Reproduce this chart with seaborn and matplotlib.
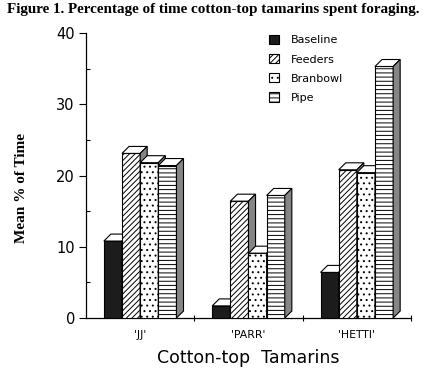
import numpy as np
import pandas as pd
import matplotlib
matplotlib.use("Agg")
import matplotlib.pyplot as plt
import matplotlib.patches as mpatches
from matplotlib.ticker import MultipleLocator, FixedLocator
import seaborn as sns

# data
animals = ["'JJ'", "'PARR'", "'HETTI'"]
conditions = ["Baseline", "Feeders", "Branbowl", "Pipe"]
baseline = [10.8, 1.7, 6.4]
feeders = [23.1, 16.4, 20.8]
branbowl = [21.8, 9.1, 20.4]
pipe = [21.4, 17.2, 35.3]

# bar styles per condition
face = ["#1c1c1c", "white", "white", "white"]
hatches = [None, "//////", "...", "----"]

sns.set_style("white")
plt.rcParams["hatch.linewidth"] = 0.7
for key in ["text.color", "axes.labelcolor", "xtick.color", "ytick.color", "axes.edgecolor"]:
    plt.rcParams[key] = "black"

df = pd.DataFrame({
    "animal": animals * 4,
    "condition": np.repeat(conditions, 3),
    "pct": baseline + feeders + branbowl + pipe,
})

fig = plt.figure(figsize=(4.27, 3.72), dpi=100)
ax = fig.add_axes([86 / 427, 54 / 372, 325 / 427, 285 / 372])

sns.barplot(data=df, x="animal", y="pct", hue="condition", order=animals,
            hue_order=conditions, width=0.67, gap=0, dodge=True,
            saturation=1, legend=False, errorbar=None, ax=ax,
            edgecolor="black", linewidth=0.8)

# fake 3d: top and side faces from each bar's geometry
dx, dy = 0.065, 0.98
for i, cont in enumerate(ax.containers):
    for bar in cont:
        bar.set_facecolor(face[i])
        bar.set_hatch(hatches[i])
        bar.set_zorder(10 + 2 * i)
        x0 = bar.get_x()
        x1 = x0 + bar.get_width()
        h = bar.get_height()
        top = mpatches.Polygon([(x0, h), (x1, h), (x1 + dx, h + dy), (x0 + dx, h + dy)],
                               closed=True, facecolor="white", edgecolor="black",
                               linewidth=0.8, zorder=11 + 2 * i)
        side = mpatches.Polygon([(x1, 0), (x1, h), (x1 + dx, h + dy), (x1 + dx, dy)],
                                closed=True, facecolor="#858585", edgecolor="black",
                                linewidth=0.8, zorder=11 + 2 * i)
        ax.add_patch(top)
        ax.add_patch(side)

ax.set_xlim(-0.5, 2.5)
ax.set_ylim(0, 40)
sns.despine(ax=ax)
for s in ["left", "bottom"]:
    ax.spines[s].set_linewidth(0.9)

ax.yaxis.set_major_locator(MultipleLocator(10))
ax.yaxis.set_minor_locator(MultipleLocator(5))
ax.tick_params(axis="y", which="major", direction="out", length=5, width=0.8,
               labelsize=10.5, pad=3, left=True)
ax.tick_params(axis="y", which="minor", direction="in", length=3, width=0.8, left=True)
ax.xaxis.set_minor_locator(FixedLocator([0.5, 1.5, 2.5]))
ax.tick_params(axis="x", which="major", length=0, labelsize=7.8, pad=9)
ax.tick_params(axis="x", which="minor", direction="inout", length=5, width=0.8, bottom=True)

ax.set_xlabel("Cotton-top  Tamarins", fontsize=12.5, labelpad=6)
ax.set_ylabel("Mean % of Time", fontsize=11, fontweight="bold",
              family="Liberation Serif")
ax.yaxis.set_label_coords(-0.178, 0.456)

fig.text(0.5, 1 - 10 / 372, "Figure 1. Percentage of time cotton-top tamarins spent foraging.",
         ha="center", va="center", fontsize=10.9, fontweight="bold", family="Liberation Serif")

handles = [mpatches.Patch(facecolor=face[i], hatch=hatches[i], edgecolor="black",
                          linewidth=0.8, label=conditions[i]) for i in range(4)]
fig.legend(handles=handles, loc="upper left", bbox_to_anchor=(259 / 427, 1 - 25 / 372),
           frameon=False, fontsize=8, handlelength=0.9, handleheight=0.9,
           handletextpad=1.1, labelspacing=0.78)

fig.savefig("out.png", dpi=100)
